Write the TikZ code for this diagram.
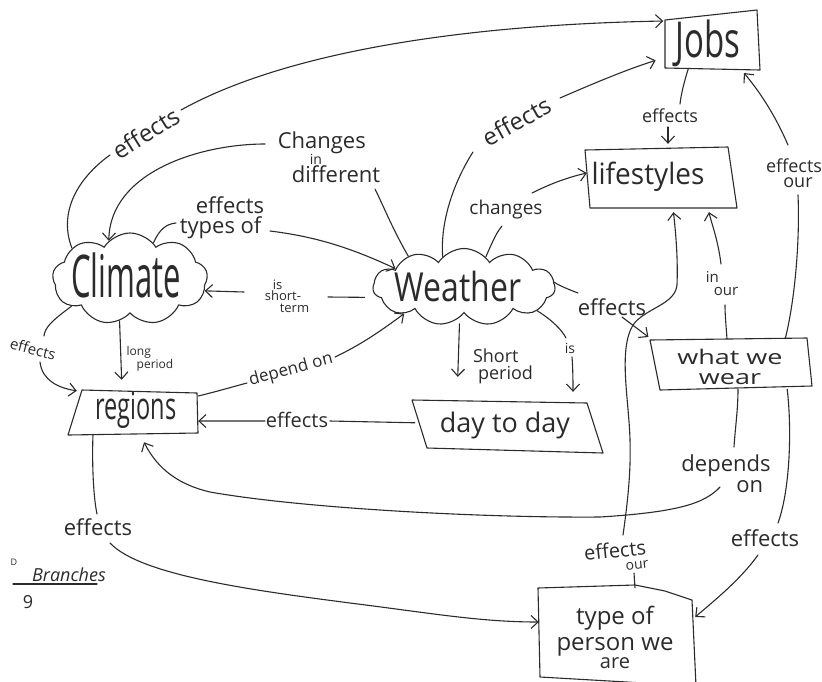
\documentclass[tikz,border=0pt]{standalone}
\usepackage{fontspec}
\setmainfont{Open Sans}
\usetikzlibrary{shapes.symbols,arrows.meta,calc}
\definecolor{ink}{HTML}{2B2B2B}
\newcommand\tallx[2]{\scalebox{1}[#1]{#2}}
\newcommand\fs[1]{\fontsize{#1}{#1}\selectfont}

\begin{document}
\begin{tikzpicture}[x=1pt,y=-1pt,
  link/.style={draw=ink, line width=1.1pt, line cap=round},
  arr/.style={link, -{Straight Barb[length=7pt,width=13pt]}},
  box/.style={rectangle, draw=none, inner sep=0pt},
  frame/.style={link, line join=round},
  cloudy/.style={cloud, cloud puffs=10, cloud puff arc=115, cloud ignores aspect,
                 draw=ink, line width=1.1pt, inner sep=0pt},
  word/.style={text=ink, inner sep=0pt},
  ]
\useasboundingbox (0,0) rectangle (822,681);

% ---------- concept boxes ----------
\node[box, minimum width=95pt,  minimum height=54pt] (jobs)    at (711,42)  {};
\node[box, minimum width=148pt, minimum height=60pt] (life)    at (661,178) {};
\node[box, minimum width=158pt, minimum height=50pt] (wear)    at (730,364) {};
\node[box, minimum width=184pt, minimum height=52pt] (dtd)     at (507,426) {};
\node[box, minimum width=128pt, minimum height=44pt] (regions) at (134,412) {};
\node[box, minimum width=156pt, minimum height=92pt] (type)    at (617,634) {};

\draw[frame] (665,20) -- (757,10) -- (760,70) -- (665,68) -- cycle;
\draw[frame] (585,150) -- (728,147) -- (737,208) -- (590,208) -- cycle;
\draw[frame] (650,340) -- (807,338) -- (812,386) -- (660,390) -- cycle;
\draw[frame] (412,400) -- (587,403) -- (603,453) -- (427,448) -- cycle;
\draw[frame] (82,390) -- (197,393) -- (198,433) -- (68,435) -- cycle;
\draw[frame] (538,588) -- (635,585) -- (665,591) -- (692,600) -- (696,686) -- (540,677) -- cycle;

% ---------- clouds ----------
\node[cloudy, cloud puffs=9,  minimum width=155pt, minimum height=92pt] (climate) at (130,279) {};
\node[cloudy, cloud puffs=11, minimum width=182pt, minimum height=77pt] (weather) at (464,287) {};

% ---------- concept texts ----------
\node[word, font=\fs{33}]   (jobs-t)    at (708,43)  {\tallx{1.5}{Jobs}};
\node[word, font=\fs{28}]   (life-t)    at (648,177) {\tallx{1.05}{lifestyles}};
\node[word, font=\fs{31}]   (climate-t) at (126,275) {\tallx{1.9}{Climate}};
\node[word, font=\fs{32}]   (weather-t) at (458,286) {\tallx{1.25}{Weather}};
\node[word, font=\fs{23.5}] (regions-t) at (136,410) {\tallx{1.6}{regions}};
\node[word, font=\fs{27}]   (dtd-t)     at (505,425) {day to day};
\node[word, font=\fontsize{27}{20}\selectfont, align=center] (wear-t) at (730,367)
  {\tallx{0.75}{what we}\\\tallx{0.75}{wear}};
\node[word, font=\fontsize{24}{26}\selectfont, align=center] (type-t) at (615,637)
  {type of\\person we\\[-8pt]{\fs{20}are}};

% ---------- link labels ----------
\node[word, font=\fs{24}, rotate=32] (l1) at (146,133) {effects};
\node[word, font=\fontsize{22}{16.5}\selectfont, align=left] (l2) at (329,157)
  {Changes\\\hspace*{32pt}{\fs{14}in}\\\hspace*{14pt}different};
\node[word, font=\fontsize{22}{20}\selectfont, align=left] (l3) at (222,218)
  {\hspace*{16pt}effects\\types of};
\node[word, font=\fontsize{13}{11.5}\selectfont, align=left] (l4) at (287,296)
  {\hspace*{8pt}is\\short-\\\hspace*{15pt}term};
\node[word, font=\fontsize{12}{13}\selectfont, align=left] (l5) at (150,359)
  {long\\\hspace*{10pt}period};
\node[word, font=\fs{15}, rotate=-15] (l6) at (33,349) {effects};
\node[word, font=\fs{17}, rotate=15] (l7) at (291,370) {depend on};
\node[word, font=\fs{20}] (l8) at (297,420) {effects};
\node[word, font=\fontsize{18}{17}\selectfont, align=left] (l9) at (503,366)
  {Short\\\hspace*{5pt}period};
\node[word, font=\fs{14}] (l10) at (570,348) {is};
\node[word, font=\fs{24}, rotate=29] (l11) at (517,121) {effects};
\node[word, font=\fs{19}] (l12) at (506,210) {changes};
\node[word, font=\fs{18}] (l13) at (670,116) {effects};
\node[word, font=\fs{22}] (l14) at (612,307) {effects};
\node[word, font=\fontsize{15}{13}\selectfont, align=left] (l15) at (722,284)
  {in\\\hspace*{8pt}our};
\node[word, font=\fontsize{20}{14}\selectfont, align=left, rotate=6] (l16) at (616,557)
  {effects\\\hspace*{40pt}{\fs{14}our}};
\node[word, font=\fontsize{22}{21}\selectfont, align=left] (l17) at (726,474)
  {depends\\\hspace*{55pt}on};
\node[word, font=\fs{22}] (l18) at (765,538) {effects};
\node[word, font=\fs{22}] (l19) at (98,527) {effects};
\node[word, font=\fontsize{18}{15}\selectfont, align=center] (l20) at (794,173)
  {effects\\\hspace*{8pt}our};

% ---------- break points beside the labels ----------
\coordinate (k1a) at (110,155);  \coordinate (k1b) at (181,110);
\coordinate (k2a) at (375,189);  \coordinate (k2b) at (265,144);
\coordinate (k3a) at (176,223);  \coordinate (k3b) at (270,231);
\coordinate (k4a) at (328,297);  \coordinate (k4b) at (244,292);
\coordinate (k6a) at (44,336);   \coordinate (k6b) at (40,362);
\coordinate (k7a) at (247,383);  \coordinate (k7b) at (335,357);
\coordinate (k8a) at (330,421);  \coordinate (k8b) at (265,421);
\coordinate (k10a) at (566,338); \coordinate (k10b) at (572,357);
\coordinate (k11a) at (473,152); \coordinate (k11b) at (560,98);
\coordinate (k12a) at (502,226); \coordinate (k12b) at (532,193);
\coordinate (k13a) at (680,104); \coordinate (k13b) at (668,127);
\coordinate (k14a) at (578,293); \coordinate (k14b) at (622,317);
\coordinate (k15a) at (725,305); \coordinate (k15b) at (721,264);
\coordinate (k16a) at (634,573); \coordinate (k16b) at (623,535);
\coordinate (k17a) at (734,447); \coordinate (k17b) at (720,487);
\coordinate (k18a) at (778,523); \coordinate (k18b) at (758,555);
\coordinate (k19a) at (97,514);  \coordinate (k19b) at (110,543);
\coordinate (k20a) at (798,195); \coordinate (k20b) at (788,145);

% ---------- connectors ----------
% Climate -> Jobs
\draw[link] (climate.152) .. controls (58,212) and (78,178) .. (k1a);
\draw[arr] (k1b) .. controls (280,55) and (450,25) .. ($(jobs.west)+(0,-21)$);
% Weather -> Climate (changes in different)
\draw[link] (weather.151) .. controls (393,230) and (383,205) .. (k2a);
\draw[arr] (k2b) .. controls (200,144) and (110,172) .. (climate.119);
% Climate -> Weather (effects types of)
\draw[link] (climate.57) .. controls (160,228) and (167,224) .. (k3a);
\draw[arr] (k3b) .. controls (310,236) and (345,245) .. (weather.165);
% Weather -> Climate (is short-term)
\draw[link, shorten <=14pt] (weather.187) -- (k4a);
\draw[arr] (k4b) -- (climate.351);
% Climate -> regions (long period)
\draw[arr, shorten >=10pt] (climate.256) -- ($(regions.north)+(-12,0)$);
% Climate -> regions (effects)
\draw[link] (climate.205) .. controls (50,322) and (45,328) .. (k6a);
\draw[arr] (k6b) .. controls (42,380) and (58,388) .. ($(regions.north west)+(7,1)$);
% regions -> Weather (depend on)
\draw[link] (regions.14) .. controls (215,392) and (232,387) .. (k7a);
\draw[arr] (k7b) .. controls (360,345) and (378,333) .. (weather.204);
% day to day -> regions
\draw[link] (dtd.178) -- (k8a);
\draw[arr] (k8b) -- (regions.-8);
% Weather -> day to day (short period)
\draw[arr, shorten <=6pt, shorten >=23pt] (weather.262) -- ($(dtd.north)+(-50,0)$);
% Weather -> day to day (is)
\draw[link] (weather.-18) .. controls (552,320) and (562,330) .. (k10a);
\draw[arr, shorten >=8pt] (k10b) .. controls (573,368) and (573,385) .. ($(dtd.north)+(66,0)$);
% Weather -> Jobs
\draw[link] (weather.125) .. controls (440,220) and (455,180) .. (k11a);
\draw[arr, shorten >=8pt] (k11b) .. controls (590,85) and (625,70) .. ($(jobs.west)+(0,16)$);
% Weather -> lifestyles
\draw[link] (weather.54) .. controls (494,238) and (497,232) .. (k12a);
\draw[arr] (k12b) .. controls (548,185) and (565,178) .. ($(life.west)+(0,-5)$);
% Jobs -> lifestyles
\draw[link] (jobs.-130) .. controls (684,82) and (681,95) .. (k13a);
\draw[arr, shorten >=4pt] (k13b) -- ($(life.north)+(7,0)$);
% Weather -> what we wear
\draw[link] (weather.3) .. controls (560,286) and (570,290) .. (k14a);
\draw[arr, shorten >=3pt] (k14b) -- (wear.north west);
% what we wear -> lifestyles
\draw[link] ($(wear.north)+(-3,0)$) .. controls (726,325) and (725,315) .. (k15a);
\draw[arr, shorten >=4pt] (k15b) .. controls (718,240) and (712,225) .. ($(life.south)+(47,0)$);
% type of person -> lifestyles
\draw[link] ($(type.north)+(18,0)$) -- (k16a);
\draw[arr, shorten >=4pt] (k16b) .. controls (628,500) and (631,470) .. (630,440)
  .. controls (629,400) and (618,350) .. (633,325)
  .. controls (645,308) and (675,305) .. (677,285)
  .. controls (678,260) and (676,235) .. ($(life.south)+(12,0)$);
% what we wear -> regions
\draw[link] ($(wear.south)+(8,0)$) .. controls (738,410) and (735,430) .. (k17a);
\draw[arr, shorten >=9pt] (k17b) .. controls (705,503) and (680,512) .. (600,517)
  .. controls (480,518) and (300,508) .. (210,492)
  .. controls (180,485) and (158,470) .. ($(regions.south)+(6,0)$);
% what we wear -> type of person
\draw[link] ($(wear.south east)+(-22,0)$) .. controls (792,430) and (790,490) .. (k18a);
\draw[arr] (k18b) .. controls (740,580) and (715,600) .. ($(type.east)+(0,-17)$);
% regions -> type of person
\draw[link] ($(regions.south)+(-41,0)$) .. controls (92,460) and (93,495) .. (k19a);
\draw[arr] (k19b) .. controls (140,575) and (250,590) .. (350,603)
  .. controls (430,613) and (480,622) .. ($(type.west)+(0,-12)$);
% what we wear -> Jobs
\draw[link] ($(wear.north east)+(-24,0)$) .. controls (795,300) and (800,240) .. (k20a);
\draw[arr, shorten >=5pt] (k20b) .. controls (775,115) and (760,92) .. ($(jobs.south east)+(-18,0)$);

% ---------- signature ----------
\node[word, font=\fs{9}] (sig-d) at (14,562) {D};
\node[word, font=\itshape\fs{18}] (sig) at (69,575) {Branches};
\draw[link] (13,584) -- (97,584);
\node[word, font=\fs{18}] (sig-n) at (28,602) {9};
\end{tikzpicture}
\end{document}
